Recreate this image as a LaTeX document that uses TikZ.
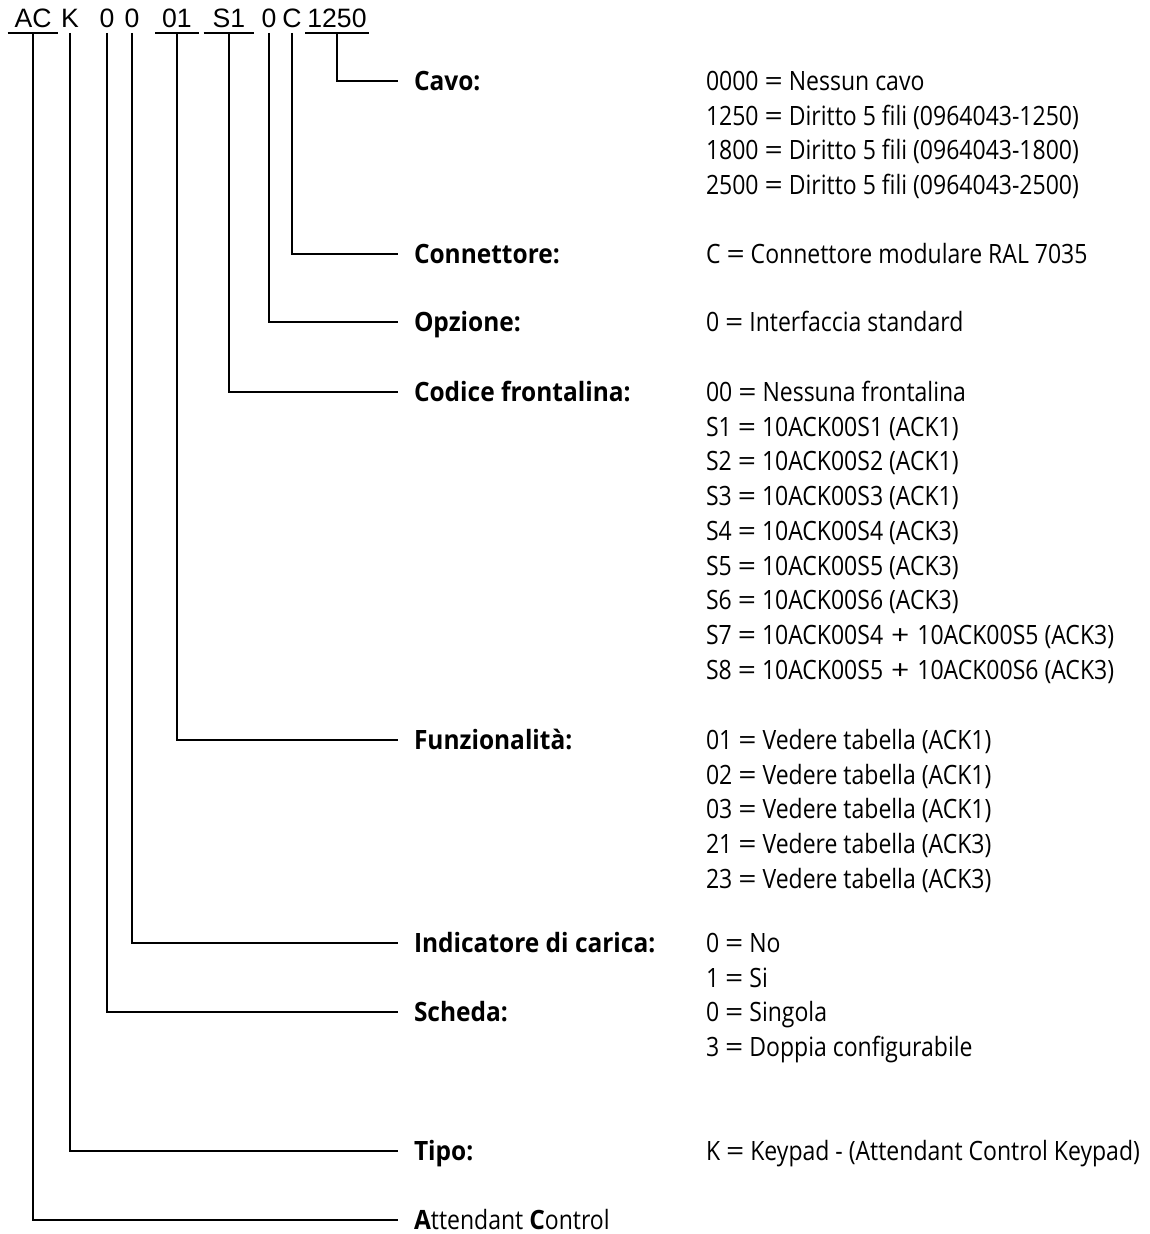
\documentclass[tikz,border=0pt]{standalone}
\usepackage{fontspec}
\setmainfont[FakeStretch=0.865]{Open Sans}
\newfontfamily\labfont[FakeStretch=0.92]{Open Sans}
\newfontfamily\symfont[FakeStretch=1.2]{Open Sans}
\newfontfamily\codefont{Liberation Sans}
\newcommand{\eqs}{~{\symfont=}~}
\newcommand{\pls}{\hspace{4pt}{\symfont+}\hspace{4pt}}

\begin{document}
\begin{tikzpicture}[x=0.5pt,y=-0.5pt,line width=1pt,
  codepart/.style={font=\codefont\fontsize{13.3}{16}\selectfont,anchor=south,text height=9.5pt,text depth=0pt,inner ysep=2pt,inner xsep=0pt},
  fieldlab/.style={font=\labfont\fontsize{13.3}{16}\selectfont\bfseries,anchor=west,text height=9.5pt,text depth=0pt,inner ysep=0pt,inner xsep=7.5pt},
  fieldval/.style={font=\fontsize{13.3}{16}\selectfont,anchor=west,text height=9.5pt,text depth=0pt,inner sep=0pt}]
\useasboundingbox (0,0) rectangle (1149,1234);

% order code
\node[codepart,inner xsep=3pt] (cAC) at (33,33) {AC};
\node[codepart] (cK) at (70,33) {K};
\node[codepart] (cSch) at (107,33) {0};
\node[codepart] (cInd) at (132,33) {0};
\node[codepart,inner xsep=3pt] (cFun) at (177,33) {01};
\node[codepart,inner xsep=4pt] (cFr) at (229,33) {S1};
\node[codepart] (cOpz) at (269,33) {0};
\node[codepart] (cCon) at (292,33) {C};
\node[codepart,inner xsep=0.5pt] (cCav) at (337,33) {1250};
\draw (cAC.south west) -- (cAC.south east);
\draw (cFun.south west) -- (cFun.south east);
\draw (cFr.south west) -- (cFr.south east);
\draw (cCav.south west) -- (cCav.south east);

% field names
\node[fieldlab] (lCav) at (398,81) {Cavo:};
\node[fieldlab] (lCon) at (398,254) {Connettore:};
\node[fieldlab] (lOpz) at (398,322) {Opzione:};
\node[fieldlab] (lFr) at (398,392) {Codice frontalina:};
\node[fieldlab] (lFun) at (398,740) {Funzionalità:};
\node[fieldlab] (lInd) at (398,943) {Indicatore di carica:};
\node[fieldlab] (lSch) at (398,1012) {Scheda:};
\node[fieldlab] (lTip) at (398,1151) {Tipo:};
\node[fieldlab,font=\fontsize{13.3}{16}\selectfont] (lAC) at (398,1220) {{\labfont\bfseries A}ttendant {\labfont\bfseries C}ontrol};

% values
\node[fieldval] (v1) at (705,81) {0000\eqs Nessun cavo};
\node[fieldval] (v2) at (705,115.7) {1250\eqs Diritto 5 fili (0964043-1250)};
\node[fieldval] (v3) at (705,150.4) {1800\eqs Diritto 5 fili (0964043-1800)};
\node[fieldval] (v4) at (705,185.1) {2500\eqs Diritto 5 fili (0964043-2500)};
\node[fieldval] (v5) at (705,254) {C\eqs Connettore modulare RAL 7035};
\node[fieldval] (v6) at (705,322) {0\eqs Interfaccia standard};
\node[fieldval] (v7) at (705,392) {00\eqs Nessuna frontalina};
\node[fieldval] (v8) at (705,426.7) {S1\eqs 10ACK00S1 (ACK1)};
\node[fieldval] (v9) at (705,461.4) {S2\eqs 10ACK00S2 (ACK1)};
\node[fieldval] (v10) at (705,496.1) {S3\eqs 10ACK00S3 (ACK1)};
\node[fieldval] (v11) at (705,530.8) {S4\eqs 10ACK00S4 (ACK3)};
\node[fieldval] (v12) at (705,565.5) {S5\eqs 10ACK00S5 (ACK3)};
\node[fieldval] (v13) at (705,600.2) {S6\eqs 10ACK00S6 (ACK3)};
\node[fieldval] (v14) at (705,634.9) {S7\eqs 10ACK00S4\pls 10ACK00S5 (ACK3)};
\node[fieldval] (v15) at (705,669.6) {S8\eqs 10ACK00S5\pls 10ACK00S6 (ACK3)};
\node[fieldval] (v16) at (705,740) {01\eqs Vedere tabella (ACK1)};
\node[fieldval] (v17) at (705,774.7) {02\eqs Vedere tabella (ACK1)};
\node[fieldval] (v18) at (705,809.4) {03\eqs Vedere tabella (ACK1)};
\node[fieldval] (v19) at (705,844.1) {21\eqs Vedere tabella (ACK3)};
\node[fieldval] (v20) at (705,878.8) {23\eqs Vedere tabella (ACK3)};
\node[fieldval] (v21) at (705,943) {0\eqs No};
\node[fieldval] (v22) at (705,977.7) {1\eqs Si};
\node[fieldval] (v23) at (705,1012) {0\eqs Singola};
\node[fieldval] (v24) at (705,1046.7) {3\eqs Doppia configurabile};
\node[fieldval] (v25) at (705,1151) {K\eqs Keypad - (Attendant Control Keypad)};

% leaders
\draw (cCav.south) |- (lCav.west);
\draw (cCon.south) |- (lCon.west);
\draw (cOpz.south) |- (lOpz.west);
\draw (cFr.south) |- (lFr.west);
\draw (cFun.south) |- (lFun.west);
\draw (cInd.south) |- (lInd.west);
\draw (cSch.south) |- (lSch.west);
\draw (cK.south) |- (lTip.west);
\draw (cAC.south) |- (lAC.west);
\end{tikzpicture}
\end{document}
